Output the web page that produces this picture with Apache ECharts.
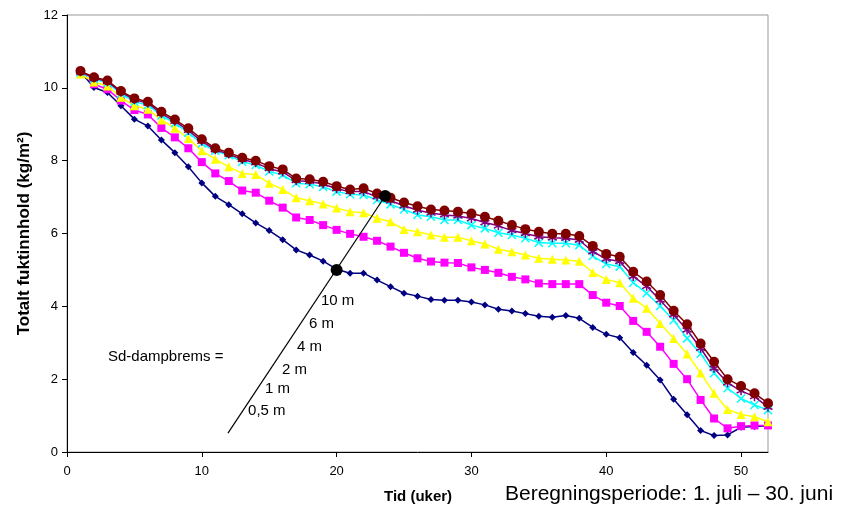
<!DOCTYPE html>
<html><head><meta charset="utf-8">
<script src="https://cdn.jsdelivr.net/npm/echarts@6/dist/echarts.min.js"></script>
<style>html,body{margin:0;padding:0;background:#fff}#c{width:843px;height:514px}</style>
</head><body><div id="c"></div>
<script>
const weeks = Array.from({length:52},(_,i)=>i+1);
const names = ['0,5 m','1 m','2 m','4 m','6 m','10 m'];
const s05 = [10.44,10.01,9.87,9.51,9.14,8.95,8.57,8.22,7.83,7.39,
  7.02,6.79,6.54,6.29,6.08,5.83,5.55,5.41,5.24,5.02,
  4.91,4.91,4.72,4.54,4.36,4.28,4.19,4.17,4.17,4.12,
  4.04,3.92,3.87,3.80,3.73,3.70,3.75,3.67,3.42,3.23,
  3.14,2.73,2.38,1.98,1.45,1.02,0.59,0.45,0.47,0.68,0.70,0.72];
const s1 = [10.44,10.10,9.96,9.65,9.39,9.27,8.90,8.64,8.34,7.96,
  7.65,7.44,7.18,7.12,6.90,6.71,6.44,6.37,6.23,6.10,
  5.99,5.91,5.80,5.64,5.47,5.32,5.23,5.20,5.19,5.07,
  5.00,4.92,4.81,4.74,4.63,4.61,4.61,4.61,4.31,4.10,
  4.01,3.60,3.30,2.89,2.42,2.00,1.43,0.92,0.65,0.71,0.73,0.73];
const s2 = [10.38,10.16,10.05,9.74,9.51,9.41,9.12,8.89,8.61,8.27,
  8.04,7.83,7.65,7.62,7.38,7.21,6.98,6.90,6.81,6.70,
  6.60,6.57,6.42,6.32,6.11,6.05,5.96,5.90,5.90,5.80,
  5.71,5.57,5.50,5.41,5.32,5.29,5.27,5.24,4.93,4.74,
  4.65,4.22,3.95,3.53,3.12,2.69,2.17,1.61,1.17,1.03,0.97,0.83];
const s4 = [10.43,10.24,10.14,9.84,9.62,9.53,9.24,9.03,8.77,8.47,
  8.27,8.15,7.97,7.88,7.70,7.61,7.38,7.35,7.28,7.15,
  7.08,7.06,6.92,6.80,6.66,6.51,6.46,6.37,6.37,6.23,
  6.14,6.02,5.96,5.87,5.75,5.73,5.73,5.68,5.38,5.16,
  5.09,4.65,4.36,4.01,3.62,3.12,2.70,2.16,1.75,1.47,1.29,1.15];
const s6 = [10.44,10.27,10.17,9.88,9.67,9.58,9.29,9.08,8.83,8.53,
  8.30,8.18,8.03,7.94,7.78,7.69,7.45,7.43,7.36,7.23,
  7.15,7.15,7.01,6.90,6.76,6.64,6.56,6.51,6.48,6.41,
  6.30,6.21,6.08,6.00,5.91,5.88,5.87,5.82,5.50,5.30,
  5.23,4.82,4.55,4.17,3.77,3.35,2.85,2.30,1.90,1.68,1.52,1.23];
const s10 = [10.46,10.29,10.20,9.91,9.71,9.62,9.34,9.13,8.89,8.59,
  8.34,8.22,8.08,8.00,7.85,7.76,7.51,7.49,7.42,7.30,
  7.21,7.24,7.10,6.98,6.85,6.75,6.66,6.63,6.60,6.55,
  6.46,6.35,6.23,6.12,6.05,5.99,5.99,5.93,5.66,5.44,
  5.36,4.95,4.68,4.31,3.88,3.51,2.98,2.48,2.00,1.81,1.61,1.34];
const xTicks = [0,10,20,30,40,50];
const yTicks = [0,2,4,6,8,10,12];
// annotation line (data coords) and its dots
const pointerLine = [[11.94,0.52],[23.6,7.03]];
const pointerDots = [[20.0,5.0],[23.6,7.03]];
const annoText = ['10 m','6 m','4 m','2 m','1 m','0,5 m','Sd-dampbrems ='];
const annoX = [18.84,17.95,17.06,15.95,14.69,13.43,3.04];
const annoY = [4.15,3.52,2.89,2.26,1.73,1.13,2.60];

const allSeries = [s05,s1,s2,s4,s6,s10];
const colors = ['#000080','#FF00FF','#FFFF00','#00FFFF','#800080','#800000'];
const symbols = ['diamond','rect','triangle',
  'path://M0,0L10,10M10,0L0,10',
  'path://M5,0L5,10M0,2.5L10,7.5M0,7.5L10,2.5',
  'circle'];
const sizes = [7,8,9,8,9,10];
const FONT = 'Liberation Sans, Arial, sans-serif';

const series = allSeries.map((arr,i)=>({
  name: names[i], type:'line',
  data: weeks.map((w,j)=>[w,arr[j]]),
  symbol: symbols[i], symbolSize: sizes[i],
  lineStyle:{color:colors[i], width:1.5},
  itemStyle:{color:colors[i], borderColor:colors[i], borderWidth:(i===3||i===4)?1.5:0, opacity:1},
  z: 2+i, animation:false
}));
series.push({type:'line', data: pointerLine, symbol:'none',
  lineStyle:{color:'#000', width:1.2}, z:20, animation:false});
series.push({type:'scatter', data: pointerDots, symbol:'circle', symbolSize:12,
  itemStyle:{color:'#000', opacity:1}, z:21, animation:false});
series.push({type:'scatter', symbolSize:0, z:22, animation:false,
  data: annoText.map((t,i)=>({value:[annoX[i],annoY[i]], name:t})),
  label:{show:true, position:'right', distance:0, formatter:p=>p.name,
    color:'#000', opacity:1, fontSize:15, fontFamily:FONT}});

const chart = echarts.init(document.getElementById('c'), null, {renderer:'canvas'});
chart.setOption({
  animation:false,
  backgroundColor:'#fff',
  grid:{left:67, right:75, top:15, bottom:62, show:true, borderColor:'#999', borderWidth:1},
  xAxis:{type:'value', min:0, max:52, interval:10,
    axisLine:{lineStyle:{color:'#000', width:1}},
    axisTick:{inside:false, length:5, lineStyle:{color:'#000'}},
    axisLabel:{color:'#000', fontSize:13, fontFamily:FONT, margin:13, showMaxLabel:false,
      formatter:v=> xTicks.includes(v)? String(v):''},
    splitLine:{show:false}},
  yAxis:{type:'value', min:0, max:12, interval:2,
    axisLine:{show:true, lineStyle:{color:'#000', width:1}},
    axisTick:{show:true, inside:false, length:5, lineStyle:{color:'#000'}},
    axisLabel:{color:'#000', fontSize:13, fontFamily:FONT, margin:9,
      formatter:v=> yTicks.includes(v)? String(v):''},
    splitLine:{show:false},
    name:'Totalt fuktinnhold (kg/m²)', nameLocation:'middle', nameGap:33,
    nameTextStyle:{color:'#000', fontSize:17, fontWeight:'bold', fontFamily:FONT}},
  graphic:[
    {type:'text', left:384, top:489, style:{text:'Tid (uker)', font:'bold 15px '+FONT, fill:'#000'}},
    {type:'text', left:505, top:484, style:{text:'Beregningsperiode: 1. juli – 30. juni', font:'21px '+FONT, fill:'#000'}}
  ],
  series: series
});
</script></body></html>
